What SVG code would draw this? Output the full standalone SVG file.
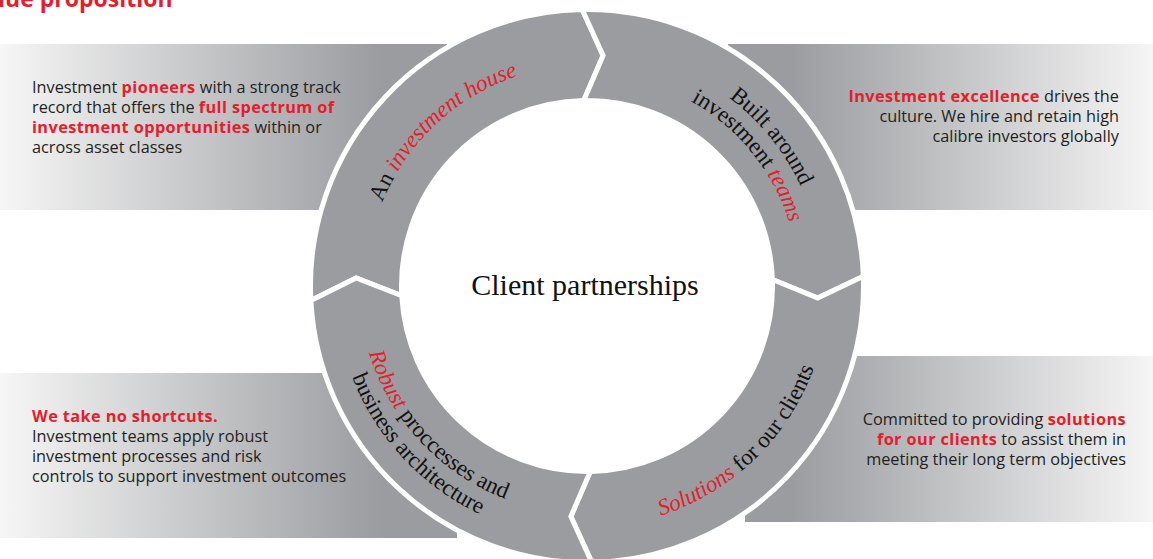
<svg xmlns="http://www.w3.org/2000/svg" xmlns:xlink="http://www.w3.org/1999/xlink" width="1153" height="559" viewBox="0 0 1153 559">
<style>
.body{font-family:"Open Sans","Liberation Sans",sans-serif;font-size:16.3px;fill:#231f20}
.r{font-weight:bold;fill:#e31e2d;letter-spacing:0.4px}
.ring{font-family:"Liberation Serif","DejaVu Serif",serif;font-size:23px;fill:#111}
.ri{font-style:italic;fill:#e31e2d}
.seg{fill:#9b9ca0;stroke:#fff;stroke-width:5;stroke-linejoin:miter}
</style>
<defs>
<linearGradient id="gL" gradientUnits="userSpaceOnUse" x1="0" y1="0" x2="380" y2="0">
<stop offset="0" stop-color="#f6f6f6"/><stop offset="1" stop-color="#9b9ca0"/>
</linearGradient>
<linearGradient id="gR" gradientUnits="userSpaceOnUse" x1="790" y1="0" x2="1153" y2="0">
<stop offset="0" stop-color="#9b9ca0"/><stop offset="1" stop-color="#f5f5f5"/>
</linearGradient>
<path id="p1" d="M401.6,406.4 A221,221 0 0 1 720.0,109.5"/>
<path id="p2a" d="M472.6,79.6 A236,236 0 0 1 765.1,440.8"/>
<path id="p2b" d="M484.2,100.6 A212,212 0 0 1 747.0,425.1"/>
<path id="p3a" d="M404.9,148.8 A228,228 0 0 0 711.2,477.2"/>
<path id="p3b" d="M385.8,134.3 A252,252 0 0 0 724.2,497.4"/>
<path id="p4" d="M445.3,481.0 A241,241 0 0 0 786.8,151.2"/>
</defs>
<rect width="1153" height="559" fill="#fff"/>
<text x="-2" y="7" style="font-family:'Open Sans','Liberation Sans',sans-serif;font-size:23px;font-weight:bold;fill:#e31e2d">lue proposition</text>

<g id="panel-top-left">
<rect x="0" y="44" width="447" height="166" fill="url(#gL)"/>
<text class="body" x="32" y="93">Investment <tspan class="r">pioneers</tspan> with a strong track</text>
<text class="body" x="32" y="113">record that offers the <tspan class="r">full spectrum of</tspan></text>
<text class="body" x="32" y="133"><tspan class="r">investment opportunities</tspan> within or</text>
<text class="body" x="32" y="153">across asset classes</text>
</g>
<g id="panel-top-right">
<rect x="728" y="44" width="425" height="166" fill="url(#gR)"/>
<text class="body" x="1119" y="102" text-anchor="end"><tspan class="r">Investment excellence</tspan> drives the</text>
<text class="body" x="1119" y="122" text-anchor="end">culture. We hire and retain high</text>
<text class="body" x="1119" y="142" text-anchor="end">calibre investors globally</text>
</g>
<g id="panel-bottom-left">
<rect x="0" y="373" width="457" height="165" fill="url(#gL)"/>
<text class="body" x="32" y="422"><tspan class="r">We take no shortcuts.</tspan></text>
<text class="body" x="32" y="442">Investment teams apply robust</text>
<text class="body" x="32" y="462">investment processes and risk</text>
<text class="body" x="32" y="482">controls to support investment outcomes</text>
</g>
<g id="panel-bottom-right">
<rect x="745" y="356" width="408" height="166" fill="url(#gR)"/>
<text class="body" x="1126" y="425" text-anchor="end">Committed to providing <tspan class="r">solutions</tspan></text>
<text class="body" x="1126" y="445" text-anchor="end"><tspan class="r">for our clients</tspan> to assist them in</text>
<text class="body" x="1126" y="465" text-anchor="end">meeting their long term objectives</text>
</g>

<g id="center">
<circle cx="587" cy="286" r="188" fill="#fff"/>
<text x="585" y="295" text-anchor="middle" style="font-family:'Liberation Serif','DejaVu Serif',serif;font-size:30px;fill:#111">Client partnerships</text>
</g>

<g id="seg-investment-house">
<path class="seg" d="M310.88,300.47 A276.5,276.5 0 0 1 582.18,9.54 L603.11,55.56 L583.76,100.53 A185.5,185.5 0 0 0 401.75,295.71 L356.14,277.94 Z"/>
<text class="ring"><textPath xlink:href="#p1" href="#p1" startOffset="50%" text-anchor="middle">An <tspan class="ri">investment house</tspan></textPath></text>
</g>
<g id="seg-investment-teams">
<path class="seg" d="M582.18,9.54 A276.5,276.5 0 0 1 863.33,276.35 L817.68,298.09 L772.39,279.53 A185.5,185.5 0 0 0 583.76,100.53 L603.11,55.56 Z"/>
<text class="ring"><textPath xlink:href="#p2a" href="#p2a" startOffset="50%" text-anchor="middle">Built around</textPath><textPath xlink:href="#p2b" href="#p2b" startOffset="50%" text-anchor="middle">investment <tspan class="ri">teams</tspan></textPath></text>
</g>
<g id="seg-solutions">
<path class="seg" d="M863.33,276.35 A276.5,276.5 0 0 1 591.82,562.46 L570.89,516.44 L590.24,471.47 A185.5,185.5 0 0 0 772.39,279.53 L817.68,298.09 Z"/>
<text class="ring"><textPath xlink:href="#p4" href="#p4" startOffset="50%" text-anchor="middle"><tspan class="ri">Solutions</tspan> for our clients</textPath></text>
</g>
<g id="seg-robust">
<path class="seg" d="M591.82,562.46 A276.5,276.5 0 0 1 310.88,300.47 L356.14,277.94 L401.75,295.71 A185.5,185.5 0 0 0 590.24,471.47 L570.89,516.44 Z"/>
<text class="ring"><textPath xlink:href="#p3a" href="#p3a" startOffset="50%" text-anchor="middle"><tspan class="ri">Robust</tspan> proccesses and</textPath><textPath xlink:href="#p3b" href="#p3b" startOffset="50%" text-anchor="middle">business architecture</textPath></text>
</g>
<g id="connectors"></g>
</svg>
